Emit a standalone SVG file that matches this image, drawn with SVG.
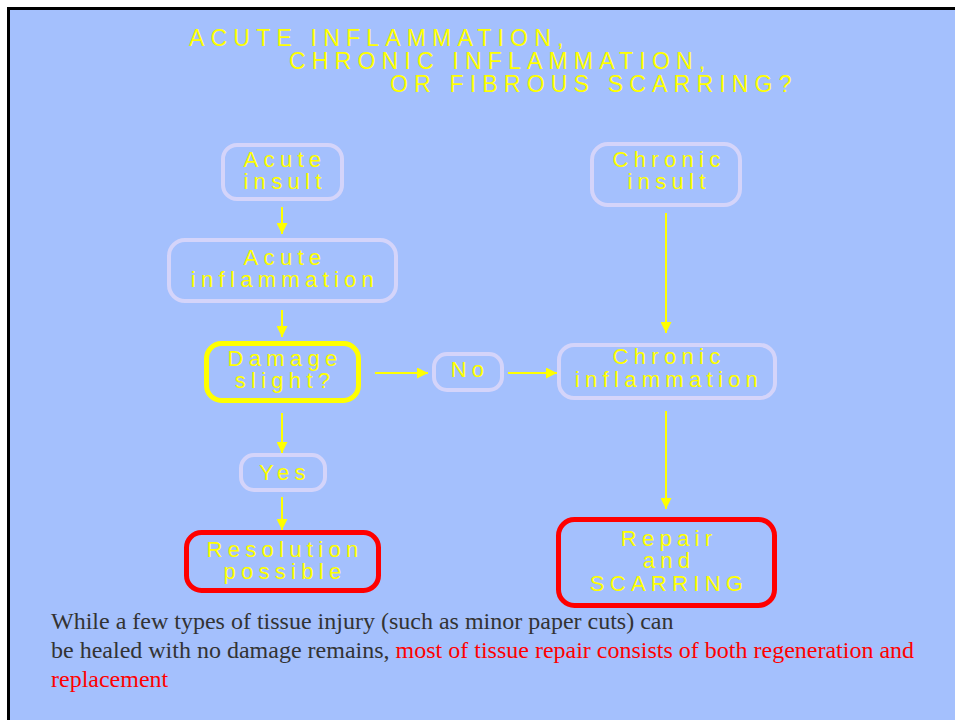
<svg xmlns="http://www.w3.org/2000/svg" width="955" height="720" viewBox="0 0 955 720">
<defs>
<style>
.bg{fill:#A4C0FD;stroke:#000;stroke-width:3}
.box{fill:none;stroke:#D4D4FA;stroke-width:4}
.ybox{fill:none;stroke:#FFFF00;stroke-width:5}
.rbox{fill:none;stroke:#FF0000;stroke-width:5}
.t{font-family:"Liberation Sans",Arial,sans-serif;font-size:22px;letter-spacing:5.3px;fill:#FFFF00;text-anchor:middle}
.title{font-family:"Liberation Sans",Arial,sans-serif;font-size:23px;letter-spacing:6.2px;fill:#FFFF00}
.body{font-family:"Liberation Serif","Times New Roman",serif;font-size:24px;fill:#333333}
.red{fill:#FF0000}
.conn{stroke:#FFFF00;stroke-width:2;fill:none;marker-end:url(#ah)}
</style>
<marker id="ah" markerUnits="userSpaceOnUse" markerWidth="11" markerHeight="11" refX="11" refY="5.5" orient="auto">
<path d="M0,0 L11,5.5 L0,11 z" fill="#FFFF00"/>
</marker>
</defs>
<rect width="955" height="720" fill="#FFFFFF"/>
<rect class="bg" x="8.5" y="8.5" width="960" height="720"/>
<g id="title">
<text class="title" x="189" y="46">ACUTE INFLAMMATION,</text>
<text class="title" x="289" y="69">CHRONIC INFLAMMATION,</text>
<text class="title" x="390" y="92">OR FIBROUS SCARRING?</text>
</g>
<g id="connectors">
<path class="conn" d="M282 207 V234"/>
<path class="conn" d="M282 310 V337"/>
<path class="conn" d="M282 413 V453"/>
<path class="conn" d="M282 497 V530"/>
<path class="conn" d="M375 373 H428"/>
<path class="conn" d="M508 373 H557"/>
<path class="conn" d="M666 213 V333"/>
<path class="conn" d="M666 411 V509"/>
</g>
<g id="acute-insult">
<rect class="box" x="223" y="145" width="119" height="54" rx="14"/>
<text class="t" x="285" y="167">Acute</text>
<text class="t" x="285" y="189">insult</text>
</g>
<g id="acute-inflammation">
<rect class="box" x="169" y="240" width="227" height="61" rx="16"/>
<text class="t" x="285" y="265">Acute</text>
<text class="t" x="285" y="287">inflammation</text>
</g>
<g id="damage-slight">
<rect class="ybox" x="206.5" y="343.5" width="152" height="57" rx="15"/>
<text class="t" x="285" y="366">Damage</text>
<text class="t" x="285" y="388">slight?</text>
</g>
<g id="no">
<rect class="box" x="434" y="354" width="68" height="36" rx="13"/>
<text class="t" x="470" y="377">No</text>
</g>
<g id="yes">
<rect class="box" x="241" y="455" width="84" height="35" rx="13"/>
<text class="t" x="285" y="480">Yes</text>
</g>
<g id="resolution-possible">
<rect class="rbox" x="186.5" y="532.5" width="192" height="58" rx="15"/>
<text class="t" x="285" y="557">Resolution</text>
<text class="t" x="285" y="579">possible</text>
</g>
<g id="chronic-insult">
<rect class="box" x="592" y="144" width="148" height="61" rx="16"/>
<text class="t" x="669" y="167">Chronic</text>
<text class="t" x="669" y="189">insult</text>
</g>
<g id="chronic-inflammation">
<rect class="box" x="559" y="345" width="216" height="53" rx="15"/>
<text class="t" x="669" y="364">Chronic</text>
<text class="t" x="669" y="387">inflammation</text>
</g>
<g id="repair-scarring">
<rect class="rbox" x="558.5" y="519.5" width="216" height="86" rx="16"/>
<text class="t" x="669" y="546">Repair</text>
<text class="t" x="669" y="568">and</text>
<text class="t" x="669" y="591">SCARRING</text>
</g>
<g id="caption">
<text class="body" x="51" y="629">While a few types of tissue injury (such as minor paper cuts) can</text>
<text class="body" x="51" y="658">be healed with no damage remains, <tspan class="red">most of tissue repair consists of both regeneration and</tspan></text>
<text class="body red" x="51" y="687">replacement</text>
</g>
</svg>
